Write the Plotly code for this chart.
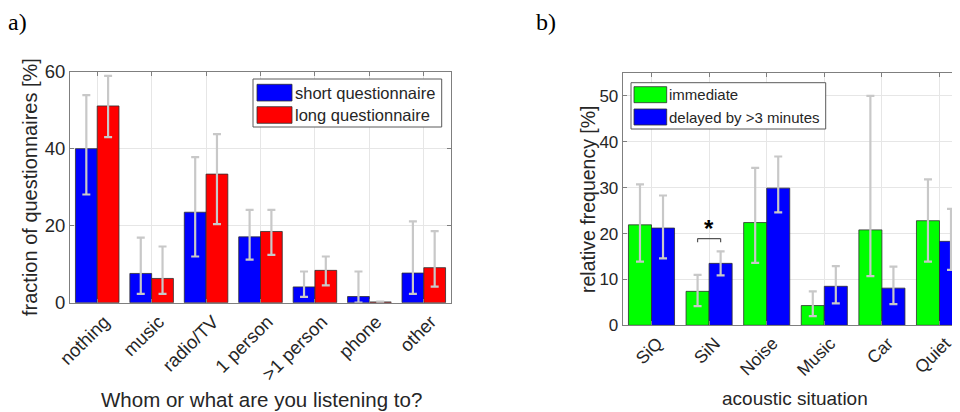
import plotly.graph_objects as go

# ---------------- data: panel a ----------------
listen_cats = ["nothing", "music", "radio/TV", "1 person", ">1 person", "phone", "other"]
short_name = "short questionnaire"
short_vals = [40.0, 7.6, 23.5, 17.1, 4.1, 1.6, 7.7]
short_hi = [53.9, 16.9, 37.8, 24.1, 8.1, 8.1, 21.1]
short_lo = [28.1, 2.3, 12.0, 11.2, 1.5, 0.0, 2.3]
long_name = "long questionnaire"
long_vals = [51.1, 6.3, 33.4, 18.5, 8.4, 0.2, 9.1]
long_hi = [58.9, 14.6, 43.8, 24.1, 12.0, 0.3, 18.6]
long_lo = [43.0, 2.3, 20.4, 12.4, 4.5, 0.1, 4.2]

# ---------------- data: panel b ----------------
sit_cats = ["SiQ", "SiN", "Noise", "Music", "Car", "Quiet"]
imm_name = "immediate"
imm_vals = [21.9, 7.4, 22.4, 4.3, 20.8, 22.8]
imm_hi = [30.7, 11.0, 34.3, 7.4, 50.0, 31.8]
imm_lo = [13.9, 4.2, 13.6, 2.0, 10.7, 13.9]
del_name = "delayed by >3 minutes"
del_vals = [21.2, 13.5, 29.9, 8.5, 8.1, 18.3]
del_hi = [28.3, 16.1, 36.8, 12.9, 12.8, 25.4]
del_lo = [14.6, 10.9, 24.6, 4.8, 4.6, 12.1]
sig_category = "SiN"
sig_level = 18.9

# the page body has an 8px margin, so the figure is placed at (8, 8) in the window
OFF = 8
W, H = 960 - OFF, 412 - OFF
TXT = "#262626"
AX = "#7f7f7f"
GRID = "#e6e6e6"
ERR = "#c8c8c8"
FONT = "Liberation Sans, Arial, sans-serif"


def px(x):
    return (x - OFF) / W


def py(y):
    return 1 - (y - OFF) / H


def bar(cats, vals, hi, lo, name, color, xa, ya):
    return go.Bar(
        x=cats, y=vals, name=name, xaxis=xa, yaxis=ya, showlegend=False,
        marker=dict(color=color, line=dict(color="#303030", width=0.8)),
        error_y=dict(type="data", symmetric=False,
                     array=[h - v for h, v in zip(hi, vals)],
                     arrayminus=[v - l for v, l in zip(vals, lo)],
                     color=ERR, thickness=2.2, width=4),
    )


fig = go.Figure()
fig.add_trace(bar(listen_cats, short_vals, short_hi, short_lo, short_name, "#0000ff", "x", "y"))
fig.add_trace(bar(listen_cats, long_vals, long_hi, long_lo, long_name, "#ff0000", "x", "y"))
fig.add_trace(bar(sit_cats, imm_vals, imm_hi, imm_lo, imm_name, "#00ff00", "x2", "y2"))
fig.add_trace(bar(sit_cats, del_vals, del_hi, del_lo, del_name, "#0000ff", "x2", "y2"))

axis_common = dict(showline=True, linecolor=AX, linewidth=1, ticks="inside", ticklen=4,
                   tickcolor=AX, showgrid=True, gridcolor=GRID, gridwidth=1,
                   zeroline=False, automargin=False)

fig.update_layout(
    width=W, height=H, margin=dict(l=0, r=0, t=0, b=0, autoexpand=False),
    paper_bgcolor="white", plot_bgcolor="white",
    barmode="group", bargap=0.2, bargroupgap=0,
    font=dict(family=FONT, color=TXT),
    xaxis=dict(domain=[px(70), px(451)], anchor="y", type="category",
               range=[-0.5, 6.5], tickangle=-45, mirror="ticks", ticklabelshift=7,
               tickfont=dict(size=18.5, color=TXT), **axis_common),
    yaxis=dict(domain=[py(302.7), py(71.7)], anchor="x", range=[0, 60],
               tickvals=[0, 20, 40, 60], mirror="ticks",
               tickfont=dict(size=18.5, color=TXT), **axis_common),
    xaxis2=dict(domain=[px(622.7), 1.0], anchor="y2", type="category",
                range=[-0.5, 5.356], tickangle=-45, mirror="ticks", ticklabelshift=6,
                tickfont=dict(size=17.5, color=TXT), **axis_common),
    yaxis2=dict(domain=[py(325.3), py(73)], anchor="x2", range=[0, 55],
                tickvals=[0, 10, 20, 30, 40, 50], mirror=False,
                tickfont=dict(size=17, color=TXT), **axis_common),
)

annotations = []
shapes = []

# panel labels
annotations.append(dict(text="a)", x=px(6), y=py(22), xref="paper", yref="paper",
                        xanchor="left", yanchor="middle", showarrow=False,
                        font=dict(family="Liberation Serif, serif", size=24, color="black")))
annotations.append(dict(text="b)", x=px(534), y=py(22), xref="paper", yref="paper",
                        xanchor="left", yanchor="middle", showarrow=False,
                        font=dict(family="Liberation Serif, serif", size=24, color="black")))

# axis titles
annotations.append(dict(text="fraction of questionnaires [%]", x=px(30), y=py(187),
                        xref="paper", yref="paper", textangle=-90, showarrow=False,
                        xanchor="center", yanchor="middle", font=dict(size=20, color=TXT)))
annotations.append(dict(text="Whom or what are you listening to?", x=px(261), y=py(399),
                        xref="paper", yref="paper", showarrow=False,
                        xanchor="center", yanchor="middle", font=dict(size=20.5, color=TXT)))
annotations.append(dict(text="relative frequency [%]", x=px(588), y=py(199),
                        xref="paper", yref="paper", textangle=-90, showarrow=False,
                        xanchor="center", yanchor="middle", font=dict(size=19.5, color=TXT)))
annotations.append(dict(text="acoustic situation", x=px(795), y=py(398),
                        xref="paper", yref="paper", showarrow=False,
                        xanchor="center", yanchor="middle", font=dict(size=19, color=TXT)))


# custom legends (MATLAB-like wide swatches)
def legend(box, entries, sw_x, text_x, fsize):
    x0, y0, x1, y1 = box
    shapes.append(dict(type="rect", xref="paper", yref="paper",
                       x0=px(x0), x1=px(x1), y0=py(y1), y1=py(y0),
                       line=dict(color="#5a5a5a", width=1), fillcolor="white", layer="above"))
    for (name, color, ya, yb) in entries:
        shapes.append(dict(type="rect", xref="paper", yref="paper",
                           x0=px(sw_x[0]), x1=px(sw_x[1]), y0=py(yb), y1=py(ya),
                           line=dict(color="#303030", width=0.8), fillcolor=color,
                           layer="above"))
        annotations.append(dict(text=name, x=px(text_x), y=py((ya + yb) / 2),
                                xref="paper", yref="paper", showarrow=False,
                                xanchor="left", yanchor="middle",
                                font=dict(size=fsize, color=TXT)))


legend((253, 79, 441.7, 127),
       [(short_name, "#0000ff", 84.3, 101), (long_name, "#ff0000", 106.7, 123.3)],
       (257, 292), 293, 16.5)
legend((631, 82.7, 825.7, 129),
       [(imm_name, "#00ff00", 86.7, 102.7), (del_name, "#0000ff", 109, 125)],
       (634, 666.7), 666.5, 15)

# significance bracket
ci = sit_cats.index(sig_category)
xa_, xb_ = ci - 0.2, ci + 0.2
for (x0, y0, x1, y1) in [(xa_, sig_level - 0.8, xa_, sig_level),
                         (xa_, sig_level, xb_, sig_level),
                         (xb_, sig_level, xb_, sig_level - 0.8)]:
    shapes.append(dict(type="line", xref="x2", yref="y2", x0=x0, y0=y0, x1=x1, y1=y1,
                       line=dict(color="#555555", width=1.2)))
annotations.append(dict(text="<b>*</b>", x=ci, y=sig_level, xref="x2", yref="y2",
                        showarrow=False, xanchor="center", yanchor="bottom", yshift=-5,
                        font=dict(size=24, color="black")))

fig.update_layout(annotations=annotations, shapes=shapes)
fig.write_html("out.html")
